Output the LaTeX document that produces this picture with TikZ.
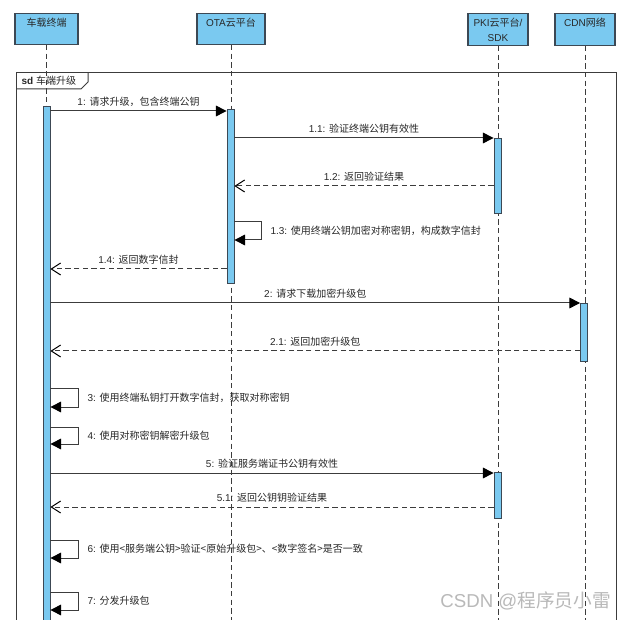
\documentclass[tikz,border=0pt]{standalone}
\usepackage{fontspec}
\setmainfont{Liberation Sans}
\newfontfamily\cjk{Noto Sans CJK SC}
\usetikzlibrary{arrows.meta}

\definecolor{lifeblue}{RGB}{122,201,240}
\definecolor{boxline}{RGB}{60,72,84}
\definecolor{msgline}{RGB}{60,60,60}
\definecolor{txt}{RGB}{40,40,40}

\tikzset{
  head/.style={draw=boxline, fill=lifeblue, line width=0.8pt, inner sep=0pt, anchor=north},
  headtext/.style={anchor=north, align=center, inner sep=0pt, text=txt, font=\fontsize{7.5}{11.25}\selectfont},
  lifeline/.style={draw=msgline, line width=0.6pt, dash pattern=on 4pt off 2.5pt},
  bar/.style={draw=boxline, fill=lifeblue, line width=0.6pt, inner sep=0pt, anchor=north, minimum width=5.25pt},
  call/.style={draw=msgline, line width=0.75pt, -{Triangle[length=8pt,width=8pt,color=black]}},
  reply/.style={draw=msgline, line width=0.75pt, dash pattern=on 4pt off 2.5pt, -{Straight Barb[length=7pt,width=9pt,color=black]}},
  lbl/.style={text=txt, inner sep=1pt}
}

\begin{document}
\begin{tikzpicture}[x=0.75pt, y=-0.75pt, font=\fontsize{7.5}{9}\selectfont]
    % Page
    \clip (0,0) rectangle (625,620);
    \fill[white] (0,0) rectangle (625,620);

    % Frame
    \draw[msgline, line width=0.75pt] (16,73) rectangle (616,640);
    \draw[msgline, line width=0.75pt] (88,73) -- (88,82) -- (81,89) -- (16,89);
    \node[lbl, anchor=west] (sdlabel) at (20,81) {\textbf{sd} {\cjk 车端升级}};

    % Heads
    \node[head, minimum width=47.25pt, minimum height=23.25pt] (car) at (46.5,13) {};
    \node[head, minimum width=51pt, minimum height=23.25pt] (ota) at (231,13) {};
    \node[head, minimum width=45pt, minimum height=24pt] (pki) at (498,13) {};
    \node[head, minimum width=45pt, minimum height=24pt] (cdn) at (585,13) {};
    \node[headtext] (cartext) at ([yshift=-3.5pt]car.north) {\cjk 车载终端};
    \node[headtext] (otatext) at ([yshift=-3.5pt]ota.north) {OTA{\cjk 云平台}};
    \node[headtext] (pkitext) at ([yshift=-3.5pt]pki.north) {PKI{\cjk 云平台}/\\SDK};
    \node[headtext] (cdntext) at ([yshift=-3.5pt]cdn.north) {CDN{\cjk 网络}};

    % Lifelines
    \draw[lifeline] (car.south) -- (car.south |- 0,625);
    \draw[lifeline] (ota.south) -- (ota.south |- 0,625);
    \draw[lifeline] (pki.south) -- (pki.south |- 0,625);
    \draw[lifeline] (cdn.south) -- (cdn.south |- 0,625);

    % Activations
    \node[bar, minimum height=389.25pt] (carbar) at (46.5,106) {};
    \node[bar, minimum height=130.5pt] (otabar) at (230.5,109) {};
    \node[bar, minimum height=56.25pt] (pkibar1) at (497.5,138) {};
    \node[bar, minimum height=43.5pt] (cdnbar) at (584,303) {};
    \node[bar, minimum height=34.5pt] (pkibar2) at (497.5,472) {};

    % Messages
    \draw[call] (carbar.east |- 0,111) -- node[lbl, above=2pt] {1: {\cjk 请求升级，包含终端公钥}} (otabar.west |- 0,111);
    \draw[call] (otabar.east |- 0,138) -- node[lbl, above=2pt] {1.1: {\cjk 验证终端公钥有效性}} (pkibar1.west |- 0,138);
    \draw[reply] (pkibar1.west |- 0,186) -- node[lbl, above=2pt] {1.2: {\cjk 返回验证结果}} (otabar.east |- 0,186);
    \draw[call] (otabar.east |- 0,222) -- ++(27,0) -- ++(0,18) node[lbl, right=5.5pt, midway] {1.3: {\cjk 使用终端公钥加密对称密钥，构成数字信封}} -- (otabar.east |- 0,240);
    \draw[reply] (otabar.west |- 0,269) -- node[lbl, above=2pt] {1.4: {\cjk 返回数字信封}} (carbar.east |- 0,269);
    \draw[call] (carbar.east |- 0,303) -- node[lbl, above=2pt] {2: {\cjk 请求下载加密升级包}} (cdnbar.west |- 0,303);
    \draw[reply] (cdnbar.west |- 0,351) -- node[lbl, above=2pt] {2.1: {\cjk 返回加密升级包}} (carbar.east |- 0,351);
    \draw[call] (carbar.east |- 0,389) -- ++(28,0) -- ++(0,18) node[lbl, right=5.5pt, midway] {3: {\cjk 使用终端私钥打开数字信封，获取对称密钥}} -- (carbar.east |- 0,407);
    \draw[call] (carbar.east |- 0,427) -- ++(28,0) -- ++(0,17) node[lbl, right=5.5pt, midway] {4: {\cjk 使用对称密钥解密升级包}} -- (carbar.east |- 0,444);
    \draw[call] (carbar.east |- 0,473) -- node[lbl, above=2pt] {5: {\cjk 验证服务端证书公钥有效性}} (pkibar2.west |- 0,473);
    \draw[reply] (pkibar2.west |- 0,507) -- node[lbl, above=2pt] {5.1: {\cjk 返回公钥钥验证结果}} (carbar.east |- 0,507);
    \draw[call] (carbar.east |- 0,540) -- ++(28,0) -- ++(0,18) node[lbl, right=5.5pt, midway] {6: {\cjk 使用<服务端公钥>验证<原始升级包>、<数字签名>是否一致}} -- (carbar.east |- 0,558);
    \draw[call] (carbar.east |- 0,592) -- ++(28,0) -- ++(0,18) node[lbl, right=5.5pt, midway] {7: {\cjk 分发升级包}} -- (carbar.east |- 0,610);

    % Watermark
    \node[text=gray!55, anchor=east, inner sep=0pt, font=\fontsize{14}{16}\selectfont] (mark) at (611,601) {CSDN @{\cjk 程序员小雷}};
\end{tikzpicture}
\end{document}
